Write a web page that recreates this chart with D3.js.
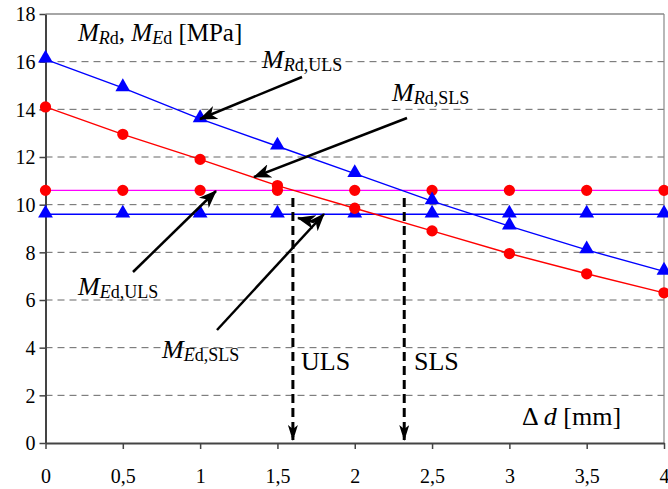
<!DOCTYPE html>
<html>
<head>
<meta charset="utf-8">
<script src="https://cdn.jsdelivr.net/npm/d3@7"></script>
<style>
  body { margin: 0; background: #fff; }
  svg { display: block; font-family: "Liberation Serif", "Times New Roman", serif; }
</style>
</head>
<body>
<svg id="chart" width="668" height="489"></svg>
<script>
// data
var deltaD = [0, 0.5, 1, 1.5, 2, 2.5, 3, 3.5, 4];
var mRdUls = [16.1, 14.9, 13.6, 12.45, 11.3, 10.15, 9.1, 8.1, 7.2];
var mRdSls = [14.1, 12.95, 11.9, 10.8, 9.85, 8.9, 7.95, 7.1, 6.3];
var mEdUls = [10.6, 10.6, 10.6, 10.6, 10.6, 10.6, 10.6, 10.6, 10.6];
var mEdSls = [9.6, 9.6, 9.6, 9.6, 9.6, 9.6, 9.6, 9.6, 9.6];
var xTicks = [0, 0.5, 1, 1.5, 2, 2.5, 3, 3.5, 4];
var yTicks = [0, 2, 4, 6, 8, 10, 12, 14, 16, 18];
var limitX = [1.6, 2.32];   // ULS, SLS

var svg = d3.select("#chart");
var plotL = 45.5, plotR = 664, plotT = 14, plotB = 443;

var x = d3.scaleLinear().domain([0, 4]).range([plotL, plotR]);
var y = d3.scaleLinear().domain([0, 18]).range([plotB, plotT]);

// arrow heads (stealth style)
var defs = svg.append("defs");
defs.append("marker")
    .attr("id", "head")
    .attr("viewBox", "0 0 18 14")
    .attr("refX", 17).attr("refY", 7)
    .attr("markerWidth", 18).attr("markerHeight", 14)
    .attr("markerUnits", "userSpaceOnUse")
    .attr("orient", "auto")
    .append("path")
    .attr("d", "M0,0 L18,7 L0,14 L5,7 Z")
    .attr("fill", "#000");
defs.append("marker")
    .attr("id", "headV")
    .attr("viewBox", "0 0 16 10")
    .attr("refX", 15).attr("refY", 5)
    .attr("markerWidth", 16).attr("markerHeight", 10)
    .attr("markerUnits", "userSpaceOnUse")
    .attr("orient", "auto")
    .append("path")
    .attr("d", "M0,0 L16,5 L0,10 L4,5 Z")
    .attr("fill", "#000");

// gridlines
svg.append("g").selectAll("line")
    .data(yTicks.filter(function (d) { return d > 0 && d < 18; }))
    .enter().append("line")
    .attr("x1", plotL).attr("x2", plotR)
    .attr("y1", function (d) { return y(d); })
    .attr("y2", function (d) { return y(d); })
    .attr("stroke", "#666")
    .attr("stroke-width", 1)
    .attr("stroke-dasharray", "7,5");

// top and right border
svg.append("line").attr("x1", plotL).attr("x2", plotR).attr("y1", y(18)).attr("y2", y(18))
    .attr("stroke", "#888").attr("stroke-width", 1.5);
svg.append("line").attr("x1", plotR).attr("x2", plotR).attr("y1", plotT).attr("y2", plotB)
    .attr("stroke", "#888").attr("stroke-width", 1.2);

// axes
var xAxis = d3.axisBottom(x).tickValues(xTicks).tickSize(6).tickSizeOuter(0)
    .tickFormat(function (d) { return String(d).replace(".", ","); });
var gx = svg.append("g").attr("transform", "translate(0," + plotB + ")").call(xAxis);
var yAxis = d3.axisLeft(y).tickValues(yTicks).tickSize(6).tickSizeOuter(0);
var gy = svg.append("g").attr("transform", "translate(" + plotL + ",0)").call(yAxis);

[gx, gy].forEach(function (g) {
    g.attr("font-family", "'Liberation Serif', 'Times New Roman', serif").attr("font-size", 20);
    g.select(".domain").attr("stroke", "#444").attr("stroke-width", 2);
    g.selectAll(".tick line").attr("stroke", "#444").attr("stroke-width", 1.5);
    g.selectAll(".tick text").attr("fill", "#000");
});
gx.selectAll(".tick text").attr("y", 26);
gy.selectAll(".tick text").attr("x", -10).attr("dy", "0.34em");

// series
var series = [
    { vals: mEdUls, line: "#ff00ff", mark: "circle", color: "#ff0000" },
    { vals: mEdSls, line: "#0000ff", mark: "tri", color: "#0000ff" },
    { vals: mRdSls, line: "#ff0000", mark: "circle", color: "#ff0000" },
    { vals: mRdUls, line: "#0000ff", mark: "tri", color: "#0000ff" }
];

var line = d3.line()
    .x(function (d) { return x(d[0]); })
    .y(function (d) { return y(d[1]); });

series.forEach(function (s) {
    var pts = deltaD.map(function (d, i) { return [d, s.vals[i]]; });
    svg.append("path")
        .attr("d", line(pts))
        .attr("fill", "none")
        .attr("stroke", s.line)
        .attr("stroke-width", 1.4);
});
series.forEach(function (s) {
    var pts = deltaD.map(function (d, i) { return [d, s.vals[i]]; });
    var sym = s.mark == "tri" ? d3.symbolTriangle : d3.symbolCircle;
    var size = s.mark == "tri" ? 95 : 100;
    svg.append("g").selectAll("path")
        .data(pts)
        .enter().append("path")
        .attr("d", d3.symbol().type(sym).size(size))
        .attr("transform", function (d) {
            return "translate(" + x(d[0]) + "," + (y(d[1]) + (s.mark == "tri" ? -1 : 0)) + ")";
        })
        .attr("fill", s.color);
});

// vertical limit arrows
svg.append("g").selectAll("line")
    .data(limitX)
    .enter().append("line")
    .attr("x1", function (d) { return x(d); })
    .attr("x2", function (d) { return x(d); })
    .attr("y1", 198)
    .attr("y2", 440)
    .attr("stroke", "#000")
    .attr("stroke-width", 3)
    .attr("stroke-dasharray", "9,5")
    .attr("marker-end", "url(#headV)");

// pointer arrows
var pointers = [
    [302, 77, 200, 119],
    [407, 118, 254, 177],
    [133, 272, 216, 191],
    [217, 330, 324, 214],
    [314, 222, 298, 218]
];
svg.append("g").selectAll("line")
    .data(pointers)
    .enter().append("line")
    .attr("x1", function (d) { return d[0]; })
    .attr("y1", function (d) { return d[1]; })
    .attr("x2", function (d) { return d[2]; })
    .attr("y2", function (d) { return d[3]; })
    .attr("stroke", "#000")
    .attr("stroke-width", 2.5)
    .attr("marker-end", "url(#head)");

// text labels
function label(px, py, parts, size) {
    var t = svg.append("text").attr("x", px).attr("y", py)
        .style("font-size", size + "px").attr("fill", "#000");
    var sub = false;
    parts.forEach(function (p) {
        var ts = t.append("tspan").text(p[0]);
        if (p[1]) ts.style("font-style", "italic");
        if (p[2]) {
            ts.style("font-size", Math.round(size * 0.7) + "px");
            if (!sub) { ts.attr("dy", 3); sub = true; }
        } else if (sub) {
            ts.attr("dy", -3); sub = false;
        }
    });
}

label(78, 41, [["M", 1, 0], ["R", 1, 1], ["d", 0, 1], [", ", 0, 0], ["M", 1, 0], ["E", 1, 1], ["d", 0, 1], [" [MPa]", 0, 0]], 25);
label(262, 68, [["M", 1, 0], ["R", 1, 1], ["d,ULS", 0, 1]], 26);
label(392, 101, [["M", 1, 0], ["R", 1, 1], ["d,SLS", 0, 1]], 26);
label(78, 295, [["M", 1, 0], ["E", 1, 1], ["d,ULS", 0, 1]], 26);
label(162, 358, [["M", 1, 0], ["E", 1, 1], ["d,SLS", 0, 1]], 26);
label(301, 370, [["ULS", 0, 0]], 26);
label(414, 370, [["SLS", 0, 0]], 26);
label(522, 425, [["\u0394 ", 0, 0], ["d", 1, 0], [" [mm]", 0, 0]], 26);
</script>
</body>
</html>
